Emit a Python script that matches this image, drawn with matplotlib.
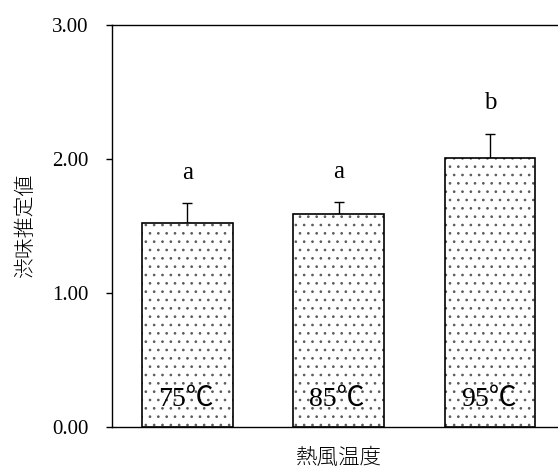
import matplotlib.pyplot as plt

# 熱風温度ごとの渋味推定値（平均と標準偏差）
temps = ['75℃', '85℃', '95℃']
means = [1.52, 1.59, 2.01]
errs = [0.15, 0.09, 0.18]
letters = ['a', 'a', 'b']
yticks = [0.0, 1.0, 2.0, 3.0]

serif = ['Liberation Serif', 'Noto Sans CJK JP']
jp = ['Noto Sans CJK JP']

plt.rcParams['hatch.linewidth'] = 0.7

fig = plt.figure(figsize=(5.58, 4.71), dpi=100)
ax = fig.add_axes([0.2002, 0.0928, 0.8134, 0.8541])

x = list(range(len(temps)))
# dotted fill in gray, then the black outline on top
ax.bar(x, means, width=0.6, color='white', edgecolor='#5a5a5a',
       linewidth=0, hatch='..', zorder=2)
ax.bar(x, means, width=0.6, fill=False, edgecolor='black',
       linewidth=1.2, zorder=3)
ax.errorbar(x, means, yerr=[[0] * len(errs), errs], fmt='none',
            ecolor='black', elinewidth=1.0, capsize=3.5, capthick=1.0, zorder=1)

for xi, m, e, lab, t in zip(x, means, errs, letters, temps):
    ax.text(xi, m + e + 0.18, lab, ha='center', va='baseline',
            fontsize=18, family=serif)
    ax.text(xi - 0.01, 0.16, t, ha='center', va='baseline',
            fontsize=20, family=serif, zorder=4)

ax.set_xlim(-0.5, 2.5)
ax.set_ylim(0, 3.0)
ax.set_yticks(yticks)
ax.set_yticklabels(['{:.2f}'.format(v) for v in yticks], family=serif, fontsize=15)
ax.set_xticks([])
ax.tick_params(axis='y', direction='out', length=4.5, width=1.0, pad=12)

for side in ['left', 'bottom', 'top']:
    ax.spines[side].set_linewidth(1.0)
ax.spines['right'].set_visible(False)

ax.set_ylabel('渋味推定値', family=jp, fontsize=15, fontweight='light')
ax.yaxis.set_label_coords(-0.167, 0.5)
ax.set_xlabel('熱風温度', family=jp, fontsize=15.5, fontweight='light')
ax.xaxis.set_label_coords(0.5, -0.05)

fig.savefig('out.png', dpi=100)
